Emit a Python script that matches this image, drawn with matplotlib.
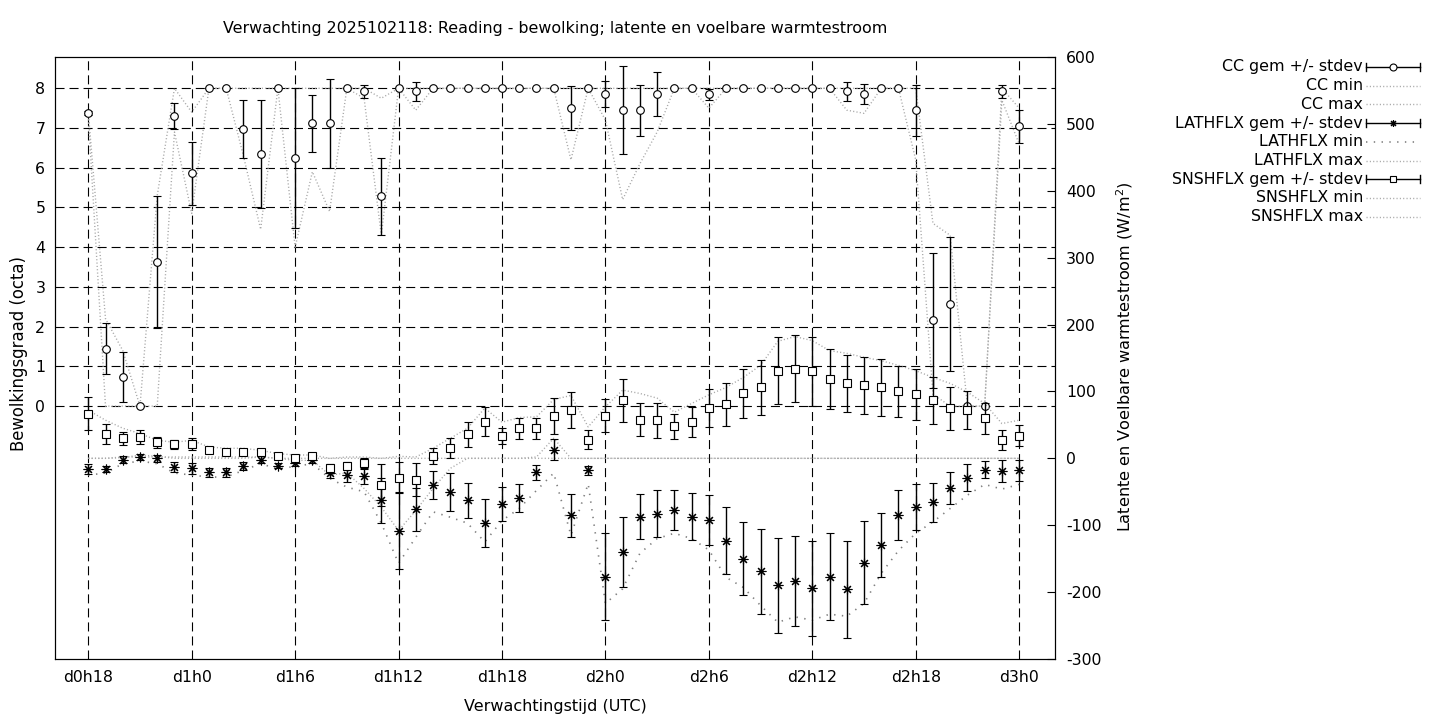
import matplotlib
matplotlib.use("Agg")
import matplotlib.pyplot as plt
from matplotlib.lines import Line2D

plt.rcParams['font.family'] = ['DejaVu Sans']
plt.rcParams['font.size'] = 11.3
plt.rcParams['lines.scale_dashes'] = False
plt.rcParams['axes.unicode_minus'] = False

# uren vanaf d0h0
hours = list(range(18, 73))
tick_hours = [18, 24, 30, 36, 42, 48, 54, 60, 66, 72]
tick_labels = ["d0h18", "d1h0", "d1h6", "d1h12", "d1h18", "d2h0", "d2h6", "d2h12", "d2h18", "d3h0"]

# bewolking (octa)
cc_mean = [7.37, 1.45, 0.73, 0.0, 3.62, 7.30,
           5.86, 8.0, 8.0, 6.97, 6.34, 8.0,
           6.24, 7.12, 7.12, 8.0, 7.92, 5.28,
           8.0, 7.92, 8.0, 8.0, 8.0, 8.0,
           8.0, 8.0, 8.0, 8.0, 7.50, 8.0,
           7.85, 7.45, 7.45, 7.85, 8.0, 8.0,
           7.85, 8.0, 8.0, 8.0, 8.0, 8.0,
           8.0, 8.0, 7.92, 7.85, 8.0, 8.0,
           7.45, 2.16, 2.57, 0.0, 0.0, 7.92,
           7.04]
cc_std = [0.05, 0.63, 0.63, 0.0, 1.66, 0.32,
          0.80, 0.0, 0.0, 0.73, 1.36, 0.0,
          1.76, 0.72, 1.12, 0.0, 0.17, 0.96,
          0.0, 0.24, 0.0, 0.0, 0.0, 0.0,
          0.0, 0.0, 0.0, 0.0, 0.55, 0.0,
          0.33, 1.10, 0.64, 0.55, 0.0, 0.0,
          0.14, 0.0, 0.0, 0.0, 0.0, 0.0,
          0.0, 0.0, 0.24, 0.25, 0.0, 0.0,
          0.64, 1.70, 1.68, 0.0, 0.0, 0.17,
          0.41]
cc_min = [7.3, 0.0, 0.0, 0.0, 0.0, 6.9,
          4.85, 8.0, 8.0, 6.3, 4.45, 8.0,
          4.0, 5.9, 4.9, 8.0, 7.75, 4.3,
          8.0, 7.45, 8.0, 8.0, 8.0, 8.0,
          8.0, 8.0, 8.0, 8.0, 6.2, 8.0,
          7.2, 5.2, 6.1, 6.9, 8.0, 8.0,
          7.5, 8.0, 8.0, 8.0, 8.0, 8.0,
          8.0, 8.0, 7.45, 7.37, 8.0, 8.0,
          6.2, 0.3, 0.0, 0.0, 0.0, 7.7,
          6.6]
cc_max = [7.4, 2.2, 1.4, 0.0, 5.3, 8.0,
          7.4, 8.0, 8.0, 8.0, 8.0, 8.0,
          8.0, 8.0, 8.0, 8.0, 8.0, 7.75,
          8.0, 8.0, 8.0, 8.0, 8.0, 8.0,
          8.0, 8.0, 8.0, 8.0, 8.0, 8.0,
          8.0, 8.0, 8.0, 8.0, 8.0, 8.0,
          8.0, 8.0, 8.0, 8.0, 8.0, 8.0,
          8.0, 8.0, 8.0, 8.0, 8.0, 8.0,
          8.0, 4.6, 4.3, 0.0, 0.0, 8.0,
          7.5]

# latente warmtestroom (W/m2)
lat_mean = [-16, -16, -2, 2, 0, -13,
            -15, -21, -21, -11, -2, -11,
            -7, -3, -22, -25, -27, -63,
            -108, -76, -40, -50, -63, -97,
            -68, -59, -21, 13, -85, -18,
            -177, -140, -87, -83, -77, -87,
            -92, -123, -150, -169, -190, -183,
            -194, -177, -196, -156, -130, -85,
            -73, -66, -45, -29, -17, -19,
            -18]
lat_std = [8, 5, 5, 4, 5, 7,
           8, 7, 7, 6, 5, 4,
           4, 4, 7, 10, 11, 33,
           58, 32, 21, 28, 26, 36,
           25, 21, 11, 16, 32, 7,
           65, 52, 34, 35, 30, 35,
           37, 50, 55, 63, 71, 67,
           71, 65, 72, 62, 48, 37,
           34, 29, 24, 20, 13, 17,
           16]
lat_min = [-25, -22, -8, -4, -8, -22,
           -25, -28, -28, -18, -8, -16,
           -12, -8, -30, -43, -50, -97,
           -157, -118, -80, -88, -97, -125,
           -93, -75, -48, -22, -115, -38,
           -217, -195, -142, -120, -112, -120,
           -137, -178, -193, -220, -245, -237,
           -242, -233, -236, -217, -172, -138,
           -112, -95, -75, -55, -39, -46,
           -39]
lat_max = [0, 0, 1, 5, 3, 0,
           0, 0, 0, 0, 2, 0,
           0, 0, 0, 0, 0, 0,
           0, 0, 0, 0, 0, 0,
           0, 0, 2, 30, 0, 0,
           0, 0, 0, 0, 0, 0,
           0, 0, 0, 0, 0, 0,
           0, 0, 0, 0, 0, 0,
           0, 0, 0, 0, 0, 0,
           0]

# voelbare warmtestroom (W/m2)
sns_mean = [67, 36, 30, 32, 24, 21,
            22, 13, 10, 10, 9, 3,
            1, 3, -15, -12, -7, -40,
            -29, -32, 3, 15, 36, 55,
            33, 45, 45, 63, 72, 28,
            64, 87, 58, 57, 48, 54,
            75, 81, 97, 106, 131, 134,
            130, 119, 112, 109, 106, 100,
            96, 87, 75, 72, 60, 28,
            34]
sns_std = [24, 15, 10, 11, 8, 7,
           9, 2, 2, 2, 2, 1,
           1, 2, 7, 6, 7, 31,
           23, 25, 12, 15, 19, 21,
           12, 16, 16, 27, 27, 14,
           25, 32, 25, 26, 19, 22,
           28, 32, 37, 41, 50, 50,
           52, 45, 43, 42, 42, 38,
           38, 35, 32, 28, 23, 15,
           16]
sns_min = [0, 0, 2, 2, 2, 2,
           2, 2, 2, 2, 2, 0,
           -3, -3, -25, -22, -45, -73,
           -108, -78, -45, -15, 0, 0,
           0, 0, 0, 0, 0, 0,
           0, 0, 0, 0, 0, 0,
           0, 0, 0, 0, 0, 0,
           0, 0, 0, 0, 0, 0,
           0, 0, 0, 0, 0, 0,
           0]
sns_max = [72, 57, 45, 37, 27, 24,
           27, 17, 15, 15, 12, 7,
           5, 5, 0, 2, 2, 0,
           3, 2, 15, 30, 45, 75,
           54, 61, 62, 88, 94, 47,
           77, 102, 97, 90, 69, 82,
           95, 106, 121, 139, 175, 182,
           176, 161, 157, 151, 146, 139,
           131, 121, 112, 99, 82, 52,
           57]

W, H = 1440, 720
fig = plt.figure(figsize=(14.4, 7.2), dpi=100)
ax = fig.add_axes([55 / W, (H - 659) / H, 1000 / W, 602 / H])
ax2 = ax.twinx()

grey = '#a8a8a8'
dots = (0, (0.8, 1.6))
sparse = (0, (1.0, 4.6))
err_kw = dict(ecolor='black', elinewidth=1.0, capsize=3.2, capthick=1.0,
              mec='black', mfc='white', mew=0.8, linestyle='none')

# bewolking op linker as
ax.plot(hours, cc_min, color=grey, lw=1, ls=dots, zorder=2)
ax.plot(hours, cc_max, color=grey, lw=1, ls=dots, zorder=2)
ax.errorbar(hours, cc_mean, yerr=cc_std, marker='o', ms=5.5, zorder=4, **err_kw)

# warmtestromen op rechter as
ax2.plot(hours, lat_min, color='#808080', lw=1.2, ls=sparse, zorder=2)
ax2.plot(hours, lat_max, color=grey, lw=1, ls=dots, zorder=2)
ax2.plot(hours, sns_min, color=grey, lw=1, ls=dots, zorder=2)
ax2.plot(hours, sns_max, color=grey, lw=1, ls=dots, zorder=2)
ax2.errorbar(hours, lat_mean, yerr=lat_std, marker=(8, 2, 0), ms=7, zorder=4, **err_kw)
ax2.errorbar(hours, sns_mean, yerr=sns_std, marker='s', ms=6.3, zorder=4, **err_kw)

ax.set_xlim(16.07, 74.08)
ax.set_ylim(-6.365, 8.788)
ax2.set_ylim(-300, 600)
ax.set_xticks(tick_hours)
ax.set_xticklabels(tick_labels)
ax.set_yticks(range(0, 9))
ax2.set_yticks(range(-300, 601, 100))

ax.grid(True, color='black', lw=0.8, ls=(0, (6.5, 3.6)))
ax.tick_params(axis='both', direction='in', length=0, pad=8)
ax.tick_params(axis='y', pad=7)
ax2.tick_params(axis='y', direction='in', length=5.8, width=0.8, pad=8)
for a in (ax, ax2):
    for s in a.spines.values():
        s.set_linewidth(0.8)

ax.set_xlabel("Verwachtingstijd (UTC)", fontsize=11.5)
ax.xaxis.set_label_coords(0.5, -0.066)
ax.set_ylabel("Bewolkingsgraad (octa)", fontsize=11.9)
ax.yaxis.set_label_coords(-0.027, 0.508)
ax2.set_ylabel("Latente en Voelbare warmtestroom (W/m$^2$)", fontsize=11.6)
ax2.yaxis.set_label_coords(1.059, 0.502)

fig.text(555 / W, 1 - 29 / H, "Verwachting 2025102118: Reading - bewolking; latente en voelbare warmtestroom",
         ha='center', va='center', fontsize=11.4)

# legenda rechts buiten de grafiek
legend_rows = [("CC gem +/- stdev", 'o'), ("CC min", None), ("CC max", None),
               ("LATHFLX gem +/- stdev", (8, 2, 0)), ("LATHFLX min", 'sparse'), ("LATHFLX max", None),
               ("SNSHFLX gem +/- stdev", 's'), ("SNSHFLX min", None), ("SNSHFLX max", None)]
x0, x1 = 1366 / W, 1420 / W
for i, (label, kind) in enumerate(legend_rows):
    y = 1 - (67 + i * 18.7) / H
    fig.text(1363 / W, y, label, ha='right', va='center', fontsize=11.4)
    if kind is None:
        fig.add_artist(Line2D([x0, x1], [y, y], color=grey, lw=1, ls=dots))
    elif kind == 'sparse':
        fig.add_artist(Line2D([x0, x1], [y, y], color='#808080', lw=1.2, ls=sparse))
    else:
        fig.add_artist(Line2D([x0, x1], [y, y], color='black', lw=1.0))
        fig.add_artist(Line2D([x0, x0], [y - 4 / H, y + 4 / H], color='black', lw=1.0))
        fig.add_artist(Line2D([x1, x1], [y - 4 / H, y + 4 / H], color='black', lw=1.0))
        fig.add_artist(Line2D([1393 / W], [y], marker=kind, ms=5, mfc='white', mec='black', mew=0.8))

fig.savefig("out.png", dpi=100)
